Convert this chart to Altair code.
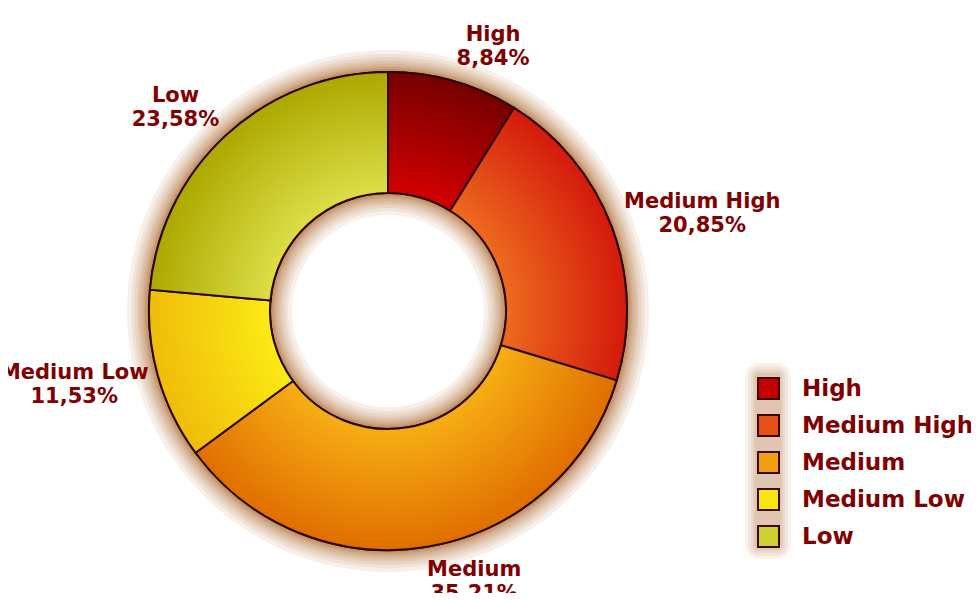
import math
import altair as alt
import pandas as pd

categories = ["High", "Medium High", "Medium", "Medium Low", "Low"]
values = [8.84, 20.85, 35.21, 11.53, 23.58]
pct_labels = ["8,84%", "20,85%", "35,21%", "11,53%", "23,58%"]
legend_colors = ["#c40000", "#e8501a", "#f0a010", "#f8e410", "#ccd030"]
grad_inner = ["#d20000", "#ee6a1e", "#f6ae14", "#fbea14", "#dcde48"]
grad_outer = ["#760000", "#d41a0c", "#e06e00", "#f0bc0a", "#aca800"]

CX, CY = 380, 303
R_OUT, R_IN = 239, 118
LABEL_COLOR = "#800000"
FONT = "DejaVu Sans"
GLOW = "#ab551a"

df = pd.DataFrame({"cat": categories, "value": values, "pct": pct_labels,
                   "order": list(range(len(values)))})

total = sum(values)


def sector_bbox(a0, a1):
    pts = []
    for a in (a0, a1):
        for r in (R_IN, R_OUT):
            pts.append((r * math.sin(a), -r * math.cos(a)))
    for k in range(5):
        a = k * math.pi / 2
        if a0 <= a <= a1:
            pts.append((R_OUT * math.sin(a), -R_OUT * math.cos(a)))
    xs = [p[0] for p in pts]
    ys = [p[1] for p in pts]
    return min(xs), min(ys), max(xs), max(ys)


base = (
    alt.Chart(df)
    .transform_window(cum="sum(value)", sort=[alt.SortField("order")], frame=[None, 0])
    .transform_joinaggregate(total="sum(value)")
    .transform_calculate(
        start="2*PI*(datum.cum-datum.value)/datum.total",
        end="2*PI*datum.cum/datum.total",
    )
    .transform_calculate(mid="(datum.start+datum.end)/2")
)

pos = dict(x=alt.value(CX), y=alt.value(CY))

layers = []

# glow rings
glow_base = (
    alt.Chart(df)
    .transform_aggregate(total="sum(value)")
    .transform_calculate(a0="0", a1="2*PI")
)
for d in [2, 3, 4, 5, 6, 8, 10, 12, 15, 18, 22]:
    layers.append(
        glow_base.mark_arc(radius=R_OUT + d, radius2=max(R_IN - d, 0),
                           fill=GLOW, opacity=0.09, strokeWidth=0)
        .encode(theta=alt.Theta("a0:Q", scale=None, stack=False),
                theta2="a1:Q", **pos)
    )

# soft glow behind the legend symbols
for d in [2, 4, 6, 9, 12]:
    layers.append(
        glow_base.mark_rect(fill=GLOW, opacity=0.08, cornerRadius=d + 2)
        .encode(x=alt.value(749 - d), x2=alt.value(771 + d),
                y=alt.value(367 - d), y2=alt.value(539 + d))
    )

# base solid arcs (legend)
layers.append(
    base.mark_arc(radius=R_OUT, radius2=R_IN, stroke="#2a0800", strokeWidth=2)
    .encode(
        theta=alt.Theta("start:Q", scale=None, stack=False),
        theta2="end:Q",
        color=alt.Color(
            "cat:N",
            scale=alt.Scale(domain=categories, range=legend_colors),
            sort=categories,
            legend=alt.Legend(
                title=None, orient="none", legendX=749, legendY=369,
                symbolType="square", symbolSize=441, symbolStrokeColor="#3a0800",
                symbolStrokeWidth=2, symbolOpacity=1,
                labelFont=FONT, labelFontWeight="bold", labelFontSize=23,
                labelColor=LABEL_COLOR, labelOffset=22, rowPadding=8,
                padding=0, labelLimit=300,
            ),
        ),
        **pos,
    )
)

# gradient overlays
cum = 0.0
for i, cat in enumerate(categories):
    a0 = 2 * math.pi * cum / total
    cum += values[i]
    a1 = 2 * math.pi * cum / total
    x0, y0, x1, y1 = sector_bbox(a0, a1)
    w, h = x1 - x0, y1 - y0
    S = max(w, h)
    ox = x0 + w / 2 - S / 2
    oy = y0 + h / 2 - S / 2
    gx = (0 - ox) / S
    gy = (0 - oy) / S
    grad = {
        "gradient": "radial",
        "x1": gx, "y1": gy, "r1": 0,
        "x2": gx, "y2": gy, "r2": R_OUT / S,
        "stops": [
            {"offset": R_IN / R_OUT, "color": grad_inner[i]},
            {"offset": 1, "color": grad_outer[i]},
        ],
    }
    layers.append(
        base.transform_filter(alt.datum.cat == cat)
        .mark_arc(radius=R_OUT, radius2=R_IN, fill=grad, stroke="#2a0800", strokeWidth=2)
        .encode(theta=alt.Theta("start:Q", scale=None, stack=False), theta2="end:Q", **pos)
    )

# labels: anchored on an ellipse around the donut, block aligned outward
layers.append(
    base.transform_calculate(
        lab="[datum.cat, datum.pct]",
        hw="7.3*max(length(datum.cat), length(datum.pct))",
    )
    .transform_calculate(
        lx=f"{CX} + 250*sin(datum.mid) + (sin(datum.mid) >= 0 ? 1 : -1)*datum.hw",
        ly=f"{CY} - 275*cos(datum.mid) - 12",
    )
    .mark_text(font=FONT, fontWeight="bold", fontSize=21, color=LABEL_COLOR,
               lineHeight=24, align="center", baseline="middle")
    .encode(
        x=alt.X("lx:Q", scale=None, axis=None),
        y=alt.Y("ly:Q", scale=None, axis=None),
        text=alt.Text("lab:N"),
    )
)

chart = (
    alt.layer(*layers)
    .properties(width=963, height=585, padding=0,
                autosize=alt.AutoSizeParams(type="none"), background="white")
    .configure_view(stroke=None)
)

chart.save("out.html", embed_options={"renderer": "svg", "actions": False})
